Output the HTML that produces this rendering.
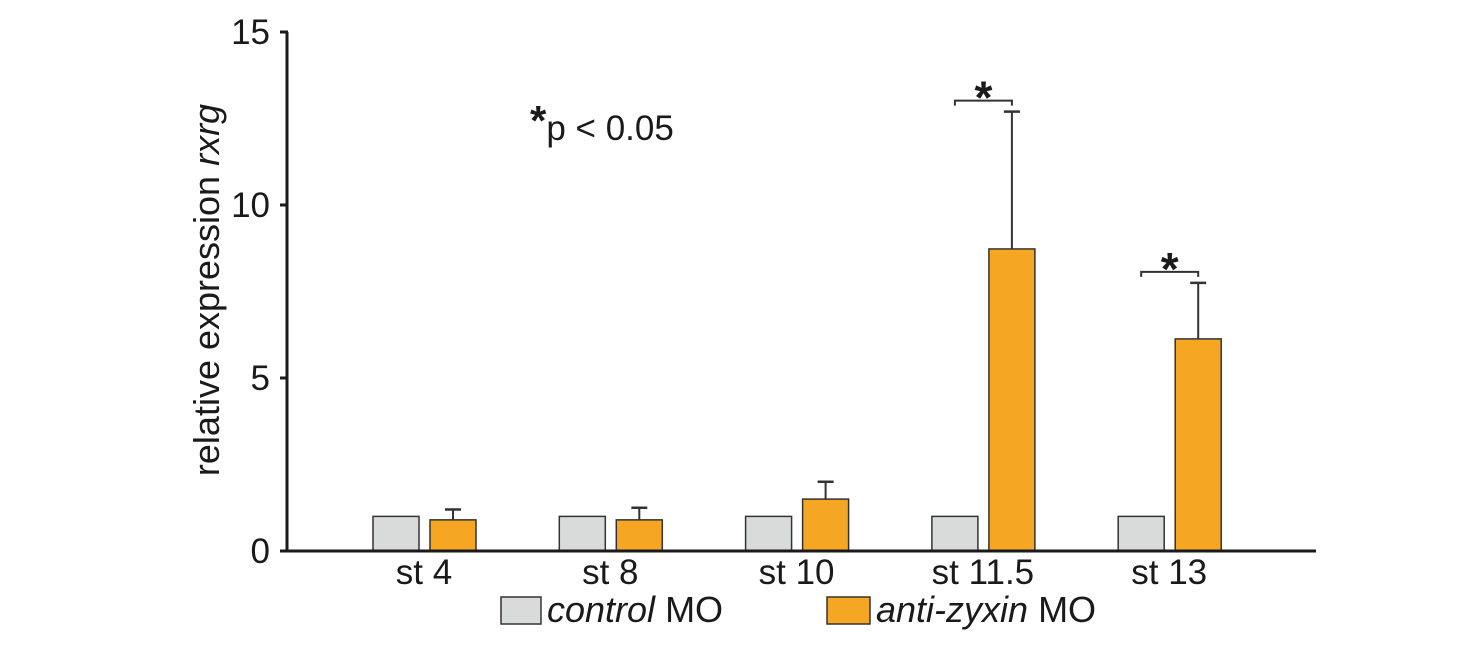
<!DOCTYPE html>
<html><head><meta charset="utf-8"><style>
body{margin:0;background:#fff;}
svg text{font-family:"Liberation Sans",Arial,sans-serif;fill:#1a1a1a;}
</style></head><body>
<svg id="chart" width="1468" height="646" xmlns="http://www.w3.org/2000/svg">
<g id="marks"></g>
<g id="axes"></g>
<text transform="translate(219,290) rotate(-90)" text-anchor="middle" font-size="36">relative expression <tspan font-style="italic">rxrg</tspan></text>
<text x="530" y="140" font-size="35"><tspan font-size="42" font-weight="bold" dy="-5">*</tspan><tspan dy="5">p &lt; 0.05</tspan></text>
<g>
<rect x="501" y="597" width="40" height="27" fill="#d9dbdb" stroke="#333" stroke-width="1.5"/>
<text x="547" y="622" font-size="36"><tspan font-style="italic">control</tspan> MO</text>
<rect x="827" y="597" width="43" height="27" fill="#f5a623" stroke="#333" stroke-width="1.5"/>
<text x="876" y="622" font-size="36"><tspan font-style="italic">anti-zyxin</tspan> MO</text>
</g>
</svg>
<script>
const categories = ["st 4","st 8","st 10","st 11.5","st 13"];
const controlValues = [1,1,1,1,1];
const zyxinValues = [0.9,0.9,1.5,8.73,6.13];
const zyxinErrTop = [1.2,1.25,2.0,12.7,7.75];
const significant = [false,false,false,true,true];
const yTicks = [0,5,10,15];

const NS="http://www.w3.org/2000/svg";
const y0=551, pxPerUnit=34.6;
const y = v => y0 - v*pxPerUnit;
const groupX = i => 373 + i*186.3;
const barW=46;
function mk(tag, attrs, parent){const e=document.createElementNS(NS,tag);for(const k in attrs)e.setAttribute(k,attrs[k]);parent.appendChild(e);return e;}
const marks=document.getElementById('marks'), axes=document.getElementById('axes');
categories.forEach((c,i)=>{
  const gx=groupX(i);
  let r=mk('rect',{x:gx,y:y(controlValues[i]),width:barW,height:y0-y(controlValues[i]),fill:'#d9dbdb',stroke:'#333','stroke-width':1.5},marks);
  
  
  const ox=gx+57, cx=ox+barW/2;
  let e=mk('line',{x1:cx,x2:cx,y1:y(zyxinValues[i]),y2:y(zyxinErrTop[i]),stroke:'#333','stroke-width':2},marks);
  
  
  let cap=mk('line',{x1:cx-8,x2:cx+8,y1:y(zyxinErrTop[i]),y2:y(zyxinErrTop[i]),stroke:'#333','stroke-width':2.5},marks);
  
  
  let r2=mk('rect',{x:ox,y:y(zyxinValues[i]),width:barW,height:y0-y(zyxinValues[i]),fill:'#f5a623',stroke:'#333','stroke-width':1.5},marks);
  
  
  let t=mk('text',{x:gx+51,y:584,'text-anchor':'middle','font-size':35},axes);
  t.textContent=c;
  
  
  if(significant[i]){
    const by=y(zyxinErrTop[i])-11;
    let b=mk('path',{d:`M${gx+23},${by+5}V${by}H${cx}V${by+5}`,fill:'none',stroke:'#333','stroke-width':2},marks);
    
    
    let s=mk('text',{x:(gx+23+cx)/2,y:by+13,'text-anchor':'middle','font-size':46,'font-weight':'bold'},marks);
    s.textContent='*';
    
    
  }
});
let ya=mk('line',{x1:287,x2:287,y1:y(15),y2:y0+1,stroke:'#1a1a1a','stroke-width':3},axes);


let xa=mk('line',{x1:280,x2:1316,y1:y0,y2:y0,stroke:'#1a1a1a','stroke-width':3},axes);


yTicks.forEach(v=>{
  let tk=mk('line',{x1:280,x2:288,y1:y(v),y2:y(v),stroke:'#1a1a1a','stroke-width':3},axes);
  
  
  let tl=mk('text',{x:270,y:y(v)+12,'text-anchor':'end','font-size':35},axes);
  tl.textContent=v;
  
  
});
</script>
</body></html>
